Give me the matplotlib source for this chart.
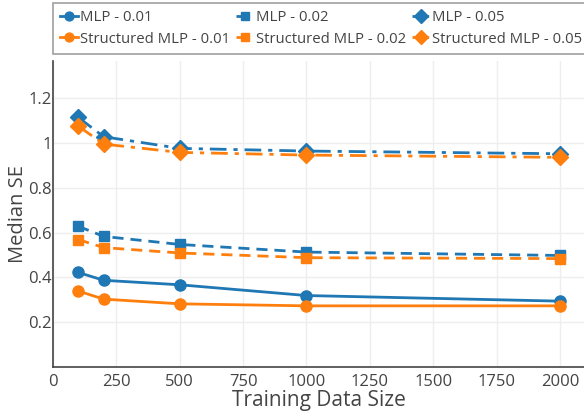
import matplotlib.pyplot as plt

plt.rcParams['font.family'] = ['Open Sans', 'DejaVu Sans']

sizes = [100, 200, 500, 1000, 2000]

mlp_001 = [0.422, 0.387, 0.367, 0.319, 0.294]
mlp_002 = [0.628, 0.583, 0.547, 0.513, 0.498]
mlp_005 = [1.114, 1.028, 0.976, 0.964, 0.952]
smlp_001 = [0.339, 0.303, 0.282, 0.273, 0.273]
smlp_002 = [0.569, 0.533, 0.509, 0.488, 0.484]
smlp_005 = [1.075, 0.995, 0.958, 0.946, 0.936]

blue = '#1f77b4'
orange = '#ff7f0e'
text_col = '#444444'
dashed = (0, (4, 2.5))
dashdot = (0, (6, 2.5, 1.5, 2.5))

fig = plt.figure(figsize=(5.84, 4.17), dpi=100)
ax = fig.add_axes([53 / 584, 50 / 417, 1 - 53 / 584, (367 - 61) / 417])

h = {}
h['m1'], = ax.plot(sizes, mlp_001, color=blue, ls='-', marker='o', ms=8, lw=2, label='MLP - 0.01')
h['s1'], = ax.plot(sizes, smlp_001, color=orange, ls='-', marker='o', ms=8, lw=2, label='Structured MLP - 0.01')
h['m2'], = ax.plot(sizes, mlp_002, color=blue, ls=dashed, marker='s', ms=7.5, lw=2, label='MLP - 0.02')
h['s2'], = ax.plot(sizes, smlp_002, color=orange, ls=dashed, marker='s', ms=7.5, lw=2, label='Structured MLP - 0.02')
h['m5'], = ax.plot(sizes, mlp_005, color=blue, ls=dashdot, marker='D', ms=8.5, lw=2, label='MLP - 0.05')
h['s5'], = ax.plot(sizes, smlp_005, color=orange, ls=dashdot, marker='D', ms=8.5, lw=2, label='Structured MLP - 0.05')

ax.set_xlim(0, 2095)
ax.set_ylim(0, 1.366)
ax.set_xticks([0, 250, 500, 750, 1000, 1250, 1500, 1750, 2000])
ax.set_yticks([0.2, 0.4, 0.6, 0.8, 1.0, 1.2])
ax.set_yticklabels(['0.2', '0.4', '0.6', '0.8', '1', '1.2'])
ax.grid(True, color='#eeeeee', lw=1)
ax.set_axisbelow(True)
for s in ['top', 'right']:
    ax.spines[s].set_visible(False)
for s in ['left', 'bottom']:
    ax.spines[s].set_color(text_col)
    ax.spines[s].set_linewidth(1.2)
ax.tick_params(axis='x', colors=text_col, labelsize=12, length=0, pad=5)
ax.tick_params(axis='y', colors=text_col, labelsize=12, length=0, pad=1)
ax.set_xlabel('Training Data Size', fontsize=15, color=text_col, labelpad=0)
ax.set_ylabel('Median SE', fontsize=14.5, color=text_col, labelpad=0)

order = ['m1', 's1', 'm2', 's2', 'm5', 's5']
leg = fig.legend([h[k] for k in order], [h[k].get_label() for k in order],
                 ncol=3, loc='upper left', bbox_to_anchor=(53 / 584, 0.994, 1 - 53 / 584 + 0.01, 0),
                 mode='expand', fontsize=10.7, frameon=True, fancybox=False,
                 handlelength=1.15, handletextpad=0.2, columnspacing=0.3,
                 borderpad=0.5, labelspacing=0.45, borderaxespad=0.0, markerscale=0.8)
leg.get_frame().set_edgecolor('#888888')
leg.get_frame().set_linewidth(1.2)
for t in leg.get_texts():
    t.set_color(text_col)

fig.savefig('out.png', dpi=100)
